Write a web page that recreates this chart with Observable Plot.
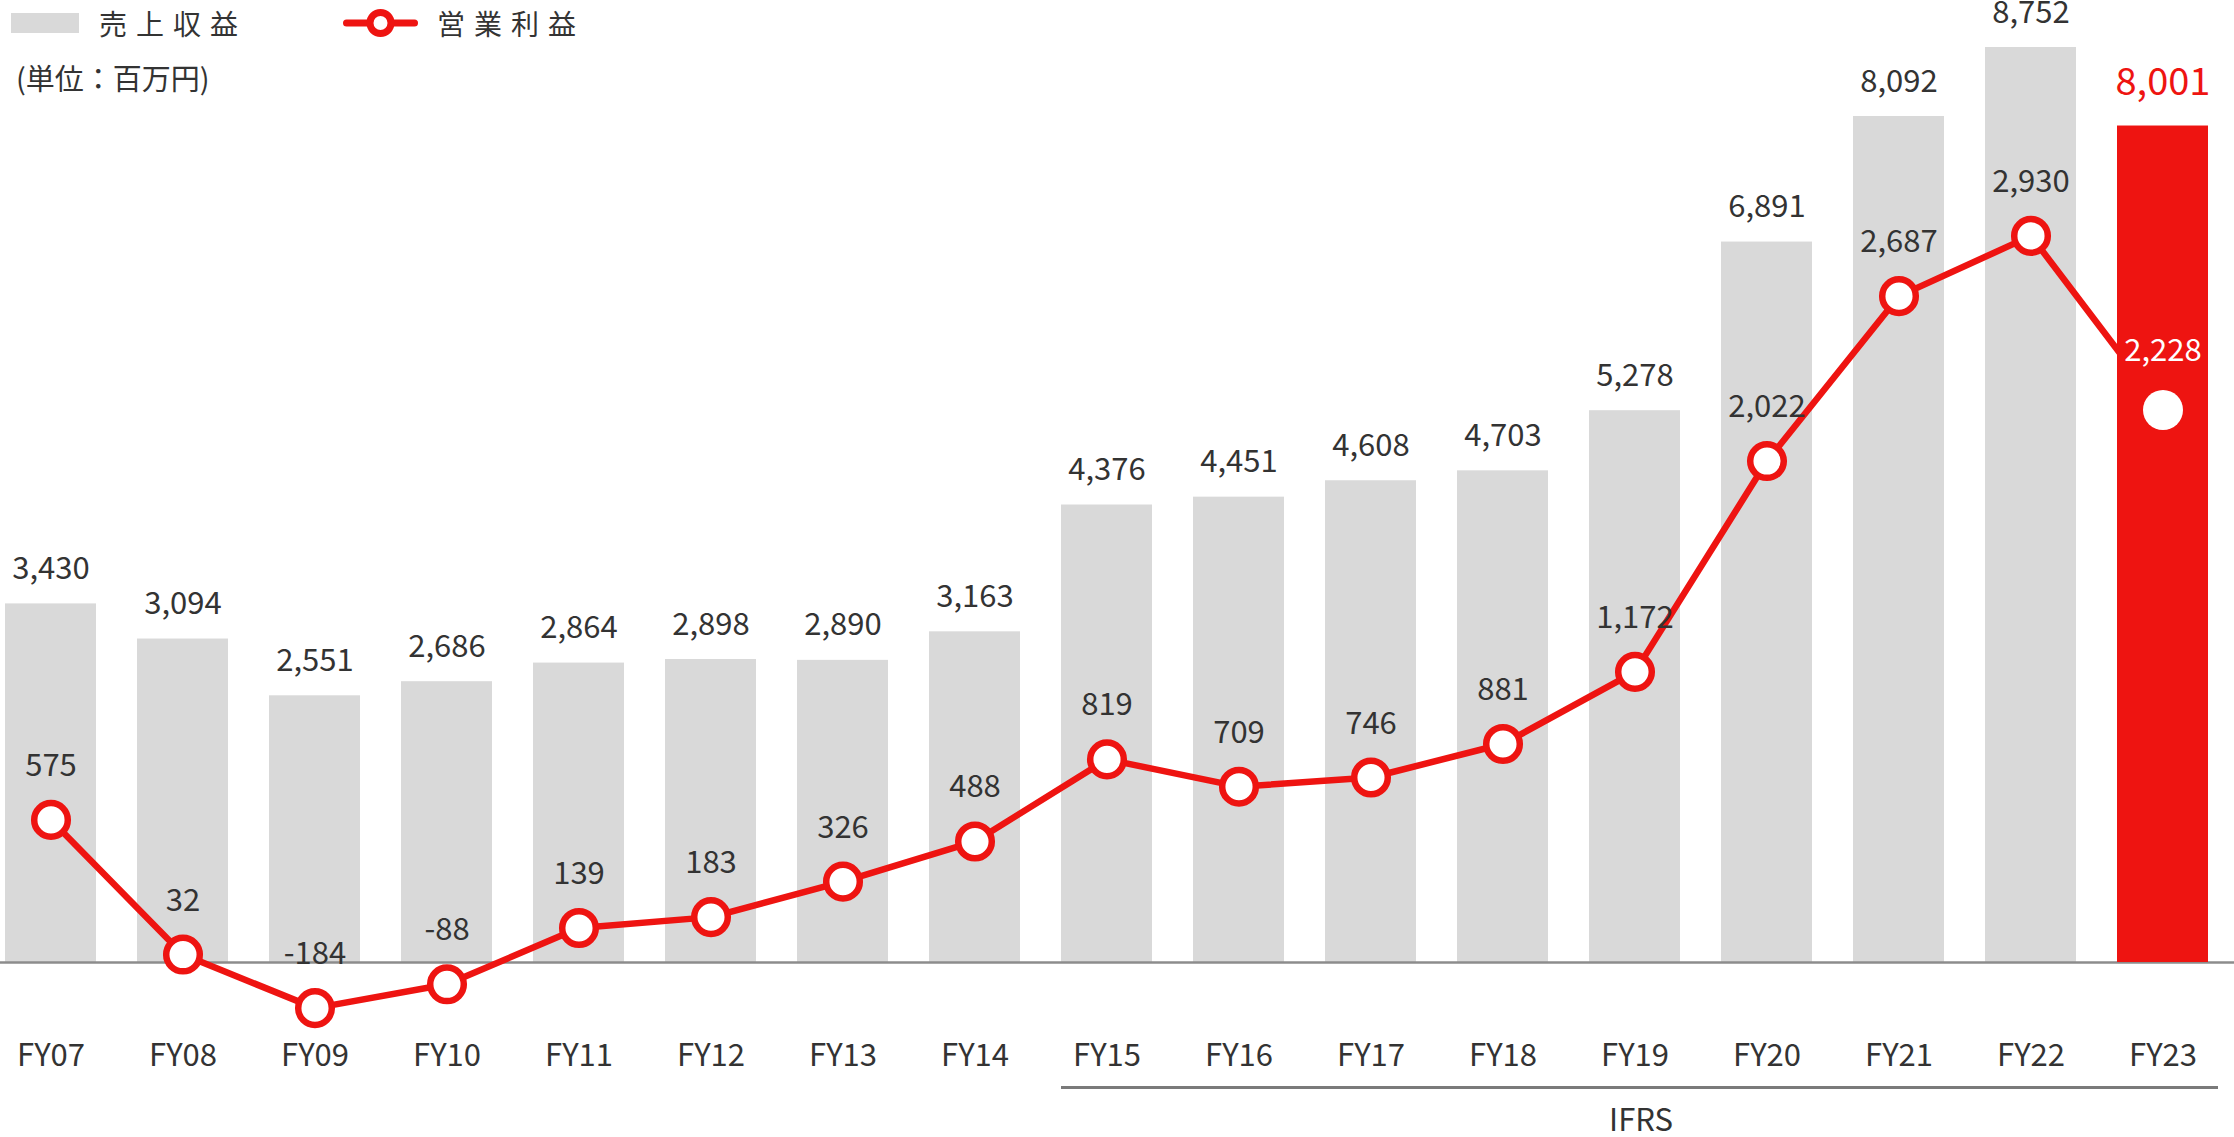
<!DOCTYPE html>
<html>
<head>
<meta charset="utf-8">
<script src="https://cdn.jsdelivr.net/npm/d3@7"></script>
<script src="https://cdn.jsdelivr.net/npm/@observablehq/plot@0.6"></script>
<style>
  html, body { margin: 0; padding: 0; background: #fff; overflow: hidden; }
  #wrap { position: relative; width: 2234px; height: 1137px; font-family: "Noto Sans CJK JP", sans-serif; color: #333; }
  #chart { position: absolute; left: 0; top: 0; }
  .legend-item { position: absolute; display: flex; align-items: center; }
  .legend-text { font-size: 28px; letter-spacing: 9px; line-height: 28px; color: #333; }
  #unit { position: absolute; left: 16px; top: 61px; font-size: 29px; line-height: 32px; color: #333; }
</style>
</head>
<body>
<div id="wrap">
  <div id="chart"></div>
  <div class="legend-item" style="left:11px; top:8px; height:30px;">
    <div style="width:68px; height:20px; background:#d9d9d9;"></div>
    <div class="legend-text" style="margin-left:20px;" id="lg1"></div>
  </div>
  <div class="legend-item" style="left:343px; top:8px; height:30px;">
    <svg width="75" height="30" style="display:block">
      <line x1="3.5" x2="71.5" y1="15" y2="15" stroke="#ee1411" stroke-width="7" stroke-linecap="round"></line>
      <circle cx="37.5" cy="15" r="10.5" fill="#fff" stroke="#ee1411" stroke-width="7"></circle>
    </svg>
    <div class="legend-text" style="margin-left:19px;" id="lg2"></div>
  </div>
  <div id="unit"></div>
</div>
<script>
// ---- data ----
const years = ["FY07","FY08","FY09","FY10","FY11","FY12","FY13","FY14","FY15","FY16","FY17","FY18","FY19","FY20","FY21","FY22","FY23"];
const revenue = [3430, 3094, 2551, 2686, 2864, 2898, 2890, 3163, 4376, 4451, 4608, 4703, 5278, 6891, 8092, 8752, 8001];
const operatingProfit = [575, 32, -184, -88, 139, 183, 326, 488, 819, 709, 746, 881, 1172, 2022, 2687, 2930, 2228];
const seriesNames = ["売上収益", "営業利益"];
const unitLabel = "(単位：百万円)";
const highlightYear = "FY23";
const ifrsFrom = "FY15";
const ifrsTo = "FY23";
const ifrsLabel = "IFRS";
// secondary-axis ratio: operating profit is drawn on its own (larger) scale
const profitAxisRatio = 2.372;

// ---- build ----
const red = "#ee1411";
const textColor = "#333333";
const fmt = d3.formatLocale({ decimal: ".", thousands: ",", grouping: [3], currency: ["", ""], minus: "-" }).format(",");
const rows = years.map((year, i) => ({
  year,
  revenue: revenue[i],
  profit: operatingProfit[i],
  profitScaled: operatingProfit[i] * profitAxisRatio
}));
const normal = rows.filter(d => d.year !== highlightYear);
const high = rows.filter(d => d.year === highlightYear);
const ifrsMid = years[Math.round((years.indexOf(ifrsFrom) + years.indexOf(ifrsTo)) / 2)];

document.getElementById("lg1").textContent = seriesNames[0];
document.getElementById("lg2").textContent = seriesNames[1];
document.getElementById("unit").textContent = unitLabel;

const step = 132, pad = 0.31;
const chart = Plot.plot({
  width: 2234,
  height: 1137,
  marginTop: 47,
  marginBottom: 175,
  marginLeft: 0,
  marginRight: 0,
  style: { fontFamily: "'Noto Sans CJK JP', sans-serif", fontSize: "31px", color: textColor, background: "transparent", overflow: "visible" },
  x: { type: "band", domain: years, range: [5 - pad * step, 2209 + pad * step], padding: pad, label: null, axis: null },
  y: { domain: [0, 8752], range: [962, 47], axis: null },
  marks: [
    Plot.barY(normal, { x: "year", y: "revenue", fill: "#d9d9d9" }),
    Plot.ruleY([0], { stroke: "#8c8c8c", strokeWidth: 2.5 }),
    Plot.line(rows, { x: "year", y: "profitScaled", stroke: red, strokeWidth: 6.5 }),
    Plot.barY(high, { x: "year", y: "revenue", fill: red }),
    Plot.dot(normal, { x: "year", y: "profitScaled", r: 16.8, fill: "white", stroke: red, strokeWidth: 6.5 }),
    Plot.dot(high, { x: "year", y: "profitScaled", r: 20, fill: "white" }),
    Plot.text(normal, { x: "year", y: "revenue", text: d => fmt(d.revenue), lineAnchor: "bottom", dy: -25, fontSize: 31, fill: textColor }),
    Plot.text(high, { x: "year", y: "revenue", text: d => fmt(d.revenue), lineAnchor: "bottom", dy: -31, fontSize: 38, fill: red }),
    Plot.text(normal, { x: "year", y: "profitScaled", text: d => fmt(d.profit), lineAnchor: "bottom", dy: -44, fontSize: 31, fill: textColor }),
    Plot.text(high, { x: "year", y: "profitScaled", text: d => fmt(d.profit), lineAnchor: "bottom", dy: -49, fontSize: 31, fill: "white" }),
    Plot.axisX({ tickSize: 0, tickPadding: 81, fontSize: 31, color: textColor, label: null }),
    Plot.ruleY([{ from: ifrsFrom, to: ifrsTo, v: 0 }], { x1: "from", x2: "to", y: "v", dy: 125, stroke: "#7a7a7a", strokeWidth: 3, insetRight: -10 }),
    Plot.text([{ label: ifrsLabel, at: ifrsMid, v: 0 }], { x: "at", y: "v", text: "label", dy: 168, dx: 6, lineAnchor: "bottom", fontSize: 31, fill: textColor })
  ]
});
document.getElementById("chart").appendChild(chart);
</script>
</body>
</html>
